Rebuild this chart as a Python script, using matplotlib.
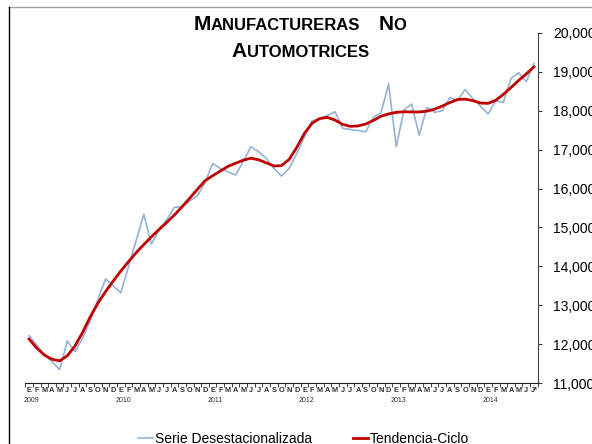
import matplotlib
matplotlib.use('Agg')
import matplotlib.pyplot as plt
from matplotlib.lines import Line2D
from matplotlib.ticker import FuncFormatter

plt.rcParams['font.family'] = ['Liberation Sans', 'DejaVu Sans']

# Meses (E=enero ... D=diciembre), enero 2009 a julio 2014
meses = ['E', 'F', 'M', 'A', 'M', 'J', 'J', 'A', 'S', 'O', 'N', 'D'] * 5 + ['E', 'F', 'M', 'A', 'M', 'J', 'J*']
anios = ['2009', '2010', '2011', '2012', '2013', '2014']

serie_desest = [
    12216, 11980, 11720, 11550, 11340, 12080, 11805, 12150, 12600, 13150, 13673, 13500,
    13321, 13993, 14665, 15337, 14573, 14933, 15200, 15517, 15530, 15680, 15807, 16150,
    16645, 16517, 16430, 16347, 16700, 17075, 16946, 16780, 16520, 16321, 16519, 16900,
    17330, 17743, 17800, 17880, 17975, 17548, 17520, 17490, 17460, 17830, 17950, 18686,
    17075, 18018, 18172, 17375, 18087, 17960, 18000, 18344, 18257, 18547, 18316, 18120,
    17915, 18257, 18215, 18833, 18977, 18746, 19219,
]
tendencia_ciclo = [
    12130, 11900, 11720, 11610, 11570, 11700, 11950, 12300, 12700, 13050, 13350, 13620,
    13880, 14120, 14350, 14560, 14760, 14950, 15130, 15320, 15530, 15750, 15980, 16200,
    16330, 16450, 16570, 16650, 16730, 16780, 16740, 16663, 16580, 16590, 16750, 17060,
    17420, 17680, 17800, 17830, 17760, 17650, 17600, 17610, 17660, 17750, 17860, 17920,
    17960, 17975, 17970, 17970, 17990, 18040, 18120, 18210, 18290, 18300, 18260, 18200,
    18190, 18270, 18420, 18600, 18780, 18950, 19130,
]

x = list(range(len(serie_desest)))

fig = plt.figure(figsize=(5.92, 4.44), dpi=100)
ax = fig.add_axes([25.2 / 592, 61 / 444, 512.6 / 592, 350 / 444])

ax.plot(x, serie_desest, color='#95B3D7', lw=1.2, label='Serie Desestacionalizada')
ax.plot(x, tendencia_ciclo, color='#C00000', lw=2.0, label='Tendencia-Ciclo')

ax.set_xlim(-0.5, len(x) - 0.5)
ax.set_ylim(11000, 20000)

# ejes
ax.spines['left'].set_visible(False)
ax.spines['top'].set_visible(False)
ax.spines['right'].set_color('#404040')
ax.spines['bottom'].set_color('#202020')
ax.yaxis.tick_right()
ax.set_yticks(range(11000, 20001, 1000))
ax.yaxis.set_major_formatter(FuncFormatter(lambda v, p: f'{int(v):,}'))
ax.tick_params(axis='y', direction='out', length=3, pad=8, labelsize=10, color='#404040')

ax.set_xticks(x)
ax.set_xticklabels(meses, fontsize=5.3, fontweight='bold', color='#303030')
ax.tick_params(axis='x', which='major', length=0, pad=3)
ax.set_xticks([i - 0.5 for i in range(len(x) + 1)], minor=True)
ax.tick_params(axis='x', which='minor', direction='out', length=3, color='#202020')

for k, a in enumerate(anios):
    ax.text(12 * k + 0.3, -0.05, a, transform=ax.get_xaxis_transform(),
            ha='center', va='center', fontsize=5, color='#303030')

# marco del grafico
fig.add_artist(Line2D([9 / 592, 1], [1 - 7 / 444, 1 - 7 / 444], color='#A0A0A0', lw=1))
fig.add_artist(Line2D([9 / 592, 9 / 592], [0, 1 - 7 / 444], color='black', lw=1))

# titulo en versalitas
renderer = fig.canvas.get_renderer()


def versalitas(lineas, y_base, cx, big=15, small=12, gap=18):
    for palabras, yb in zip(lineas, y_base):
        piezas = []
        for j, w in enumerate(palabras):
            piezas.append((w[0], big, 0))
            piezas.append((w[1:], small, gap if j < len(palabras) - 1 else 0))
        objs = []
        total = 0
        for t, s, g in piezas:
            o = fig.text(0, yb, t, fontsize=s, fontweight='bold', va='baseline', ha='left')
            w = o.get_window_extent(renderer).width
            objs.append((o, w, g))
            total += w + g
        xpos = cx - total / 2
        for o, w, g in objs:
            o.set_x(xpos / 592)
            xpos += w + g


versalitas([['MANUFACTURERAS', 'NO'], ['AUTOMOTRICES']],
           [1 - 30 / 444, 1 - 57 / 444], 300)

fig.legend(loc='center left', bbox_to_anchor=(138 / 592, 1 - 439 / 444), ncol=2,
           frameon=False, fontsize=10, handlelength=1.1, handletextpad=0.15,
           columnspacing=2.9, borderpad=0, borderaxespad=0)

fig.savefig('out.png', dpi=100)
